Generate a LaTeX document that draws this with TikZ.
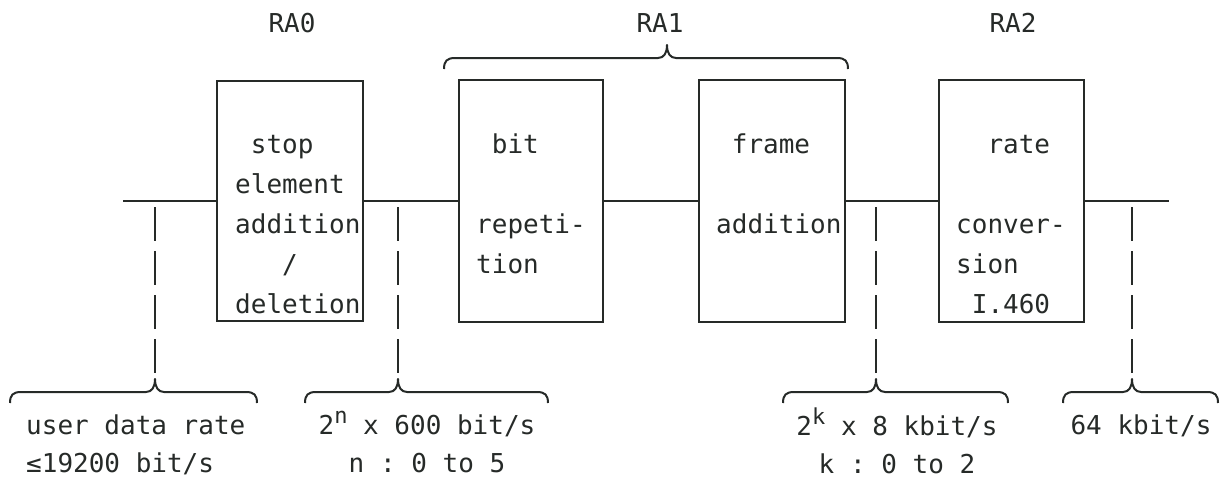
\documentclass[tikz,border=0pt]{standalone}
\usepackage{fontspec}
\setmonofont{DejaVu Sans Mono}
\definecolor{ink}{RGB}{38,42,40}
\newcommand\topbrace[4]{% x1, x2, tip x, y
  \draw[brc] (#1,#4+11) .. controls (#1,#4+3) and (#1+3,#4) .. (#1+11,#4)
    -- (#3-9,#4) .. controls (#3-3,#4) and (#3,#4-5) .. (#3,#4-13)
    .. controls (#3,#4-5) and (#3+3,#4) .. (#3+9,#4)
    -- (#2-11,#4) .. controls (#2-3,#4) and (#2,#4+3) .. (#2,#4+11);}
\begin{document}
\begin{tikzpicture}[x=1pt,y=-1pt,
  ln/.style={draw=ink,line width=2.4pt},
  brc/.style={draw=ink,line width=2pt,line join=round},
  dsh/.style={draw=ink,line width=2pt,dash pattern=on 34pt off 10pt},
  blk/.style={draw=ink,line width=2.4pt,rectangle,inner sep=0pt},
  txt/.style={font=\ttfamily\fontsize{26}{40}\selectfont,text=ink,inner sep=0pt},
  lab/.style={font=\ttfamily\fontsize{26}{38}\selectfont,text=ink,inner sep=0pt}]
\useasboundingbox (0,0) rectangle (1224,480);

% top labels
\node[txt,anchor=base] (ra0) at (292,32) {RA0};
\node[txt,anchor=base] (ra1) at (660,32) {RA1};
\node[txt,anchor=base] (ra2) at (1013,32) {RA2};
\topbrace{444}{848}{667}{58}

% boxes
\node[blk,minimum width=146pt,minimum height=240pt] (b1) at (290,201) {};
\node[blk,minimum width=144pt,minimum height=242pt] (b2) at (531,201) {};
\node[blk,minimum width=146pt,minimum height=242pt] (b3) at (772,201) {};
\node[blk,minimum width=145pt,minimum height=242pt] (b4) at (1011.5,201) {};

% box texts
\node[txt,align=left,anchor=north west] (t1) at (235,125)
  {\strut\phantom{x}stop\\element\\addition\\\phantom{xxx}/\\deletion};
\node[txt,align=left,anchor=north west] (t2) at (476,125)
  {\strut\phantom{x}bit\\\strut\\repeti-\\tion};
\node[txt,align=left,anchor=north west] (t3) at (716,125)
  {\strut\phantom{x}frame\\\strut\\addition};
\node[txt,align=left,anchor=north west] (t4) at (956,125)
  {\strut\phantom{xx}rate\\\strut\\conver-\\sion\\\phantom{x}I.460};

% main line
\coordinate (in) at (123,201);
\coordinate (out) at (1169,201);
\draw[ln] (in) -- (b1.west);
\draw[ln] (b1.east) -- (b2.west);
\draw[ln] (b2.east) -- (b3.west);
\draw[ln] (b3.east) -- (b4.west);
\draw[ln] (b4.east) -- (out);

% dashed drops
\coordinate (d1a) at (155,207);  \coordinate (d1b) at (155,373);
\coordinate (d2a) at (398,207);  \coordinate (d2b) at (398,373);
\coordinate (d3a) at (876,207);  \coordinate (d3b) at (876,373);
\coordinate (d4a) at (1132,207); \coordinate (d4b) at (1132,373);
\draw[dsh] (d1a) -- (d1b);
\draw[dsh] (d2a) -- (d2b);
\draw[dsh] (d3a) -- (d3b);
\draw[dsh] (d4a) -- (d4b);

% bottom braces
\topbrace{10}{257}{155}{392}
\topbrace{305}{548}{398}{392}
\topbrace{783}{1008}{876}{392}
\topbrace{1063}{1218}{1132}{392}

% bottom labels
\node[lab,align=left,anchor=north west] (l1) at (26,408)
  {\strut user data rate\\≤19200 bit/s};
\node[lab,align=center,anchor=north] (l2) at (427,408)
  {\strut 2\raisebox{0.42em}{\fontsize{22}{22}\selectfont n} x 600 bit/s\\n : 0 to 5};
\node[lab,align=center,anchor=north] (l3) at (897,408)
  {\strut 2\raisebox{0.42em}{\fontsize{22}{22}\selectfont k} x 8 kbit/s\\k : 0 to 2};
\node[lab,align=center,anchor=north] (l4) at (1141,408)
  {\strut 64 kbit/s};
\end{tikzpicture}
\end{document}
